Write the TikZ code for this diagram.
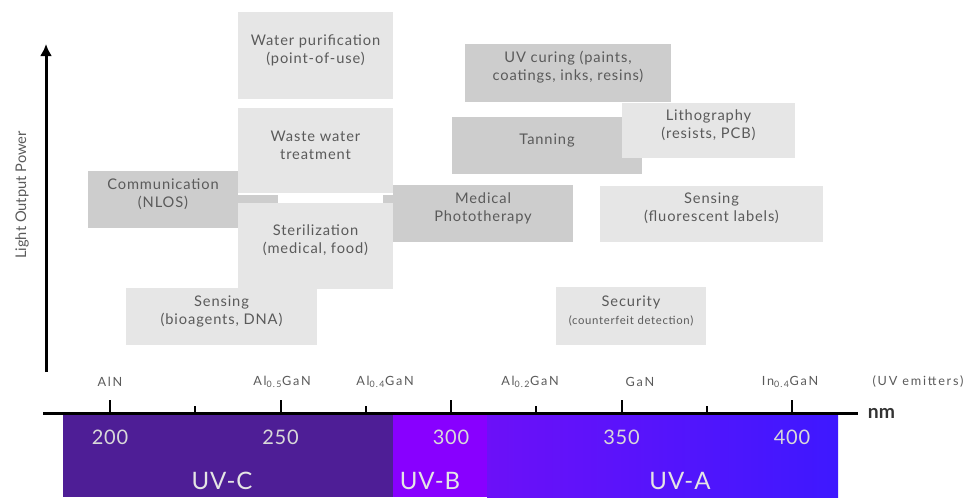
\documentclass[tikz,border=0pt]{standalone}
\usepackage{fontspec}
\setmainfont{Lato}
\usetikzlibrary{fit,arrows.meta}

\definecolor{boxlight}{HTML}{E6E6E6}
\definecolor{boxdark}{HTML}{CDCDCD}
\definecolor{txtgray}{HTML}{5A5A5A}
\definecolor{uvc}{HTML}{4E1E96}
\definecolor{uvb}{HTML}{8800FF}
\definecolor{uvaleft}{HTML}{6C10F8}
\definecolor{uvaright}{HTML}{3E18FF}

\tikzset{
  appbox/.style={inner sep=0pt, align=center, text=txtgray, font=\fontsize{11}{13.5}\selectfont\addfontfeatures{LetterSpace=6}},
  lightbox/.style={appbox, fill=boxlight},
  darkbox/.style={appbox, fill=boxdark},
  emisor/.style={text=txtgray, font=\fontsize{9.5}{11}\selectfont\addfontfeatures{LetterSpace=14}},
  bandnum/.style={text=black!15, font=\fontsize{15}{17}\selectfont\addfontfeatures{LetterSpace=4}},
  bandname/.style={text=black!10, font=\fontsize{18}{21}\selectfont\addfontfeatures{LetterSpace=4}},
}

\begin{document}
\begin{tikzpicture}[x=0.75pt,y=-0.75pt]
    \useasboundingbox (0,0) rectangle (969,497);

    \def\scalx{3.41}
    \def\xcero{110}
    \def\yeje{413}

    %Bandas UV
    \fill[uvc] (63,415) rectangle (393,497);
    \fill[uvb] (393,415) rectangle (487,497);
    \shade[left color=uvaleft, right color=uvaright] (487,415) rectangle (838,497);
    \node[bandname] (uvC) at (222,481) {UV-C};
    \node[bandname] (uvB) at (430,481) {UV-B};
    \node[bandname] (uvA) at (680,481) {UV-A};

    %Ejex
    \foreach \n [evaluate={\xx=\xcero+(\n-200)*\scalx;}] in {200,250,...,400}{
        \draw[line width=1.5pt] (\xx,\yeje) -- (\xx,400);
        \node[bandnum] at (\xx,437) {\n};
    }
    \foreach \n [evaluate={\xx=\xcero+(\n-200)*\scalx;}] in {225,275,...,375}
        \draw[line width=1.2pt] (\xx,\yeje) -- (\xx,406);
    \draw[line width=2.25pt] (43,\yeje) -- (858,\yeje) node[right=3pt, font=\bfseries\fontsize{14.5}{16}\selectfont, text=black!80] (nm) {nm};

    %Emisores
    \node[emisor] (aln) at (110,382) {AlN};
    \node[emisor] (al5) at (282,382) {Al\textsubscript{0.5}GaN};
    \node[emisor] (al4) at (385,382) {Al\textsubscript{0.4}GaN};
    \node[emisor] (al2) at (530,382) {Al\textsubscript{0.2}GaN};
    \node[emisor] (gan) at (640,382) {GaN};
    \node[emisor] (in4) at (790,382) {In\textsubscript{0.4}GaN};
    \node[emisor] (uvem) at (918,382) {(UV emitters)};

    %Ejey
    \draw[line width=2.25pt, -{Latex[length=9pt,width=9pt]}] (46,372) -- (46,44);
    \node[rotate=90, text=txtgray, font=\fontsize{11}{13}\selectfont] (lop) at (22,195) {Light Output Power};

    %Aplicaciones
    \fill[boxdark] (238,195) rectangle (278,203);
    \fill[boxdark] (383,195) rectangle (393,203);
    \node[darkbox, fit={(88,171) (238,228)}] (comm) {Communication\\(NLOS)};
    \node[darkbox, fit={(393,185) (573,242)}] (medic) {Medical\\Phototherapy};
    \node[lightbox, fit={(238,12) (393,99)}] (water) {Water purification\\(point-of-use)};
    \node[lightbox, fit={(238,108) (393,193)}] (waste) {Waste water\\treatment};
    \node[lightbox, fit={(238,203) (393,289)}] (steril) {Sterilization\\(medical, food)};
    \node[lightbox, fit={(126,288) (317,345)}] (bio) {Sensing\\(bioagents, DNA)};
    \node[darkbox, fit={(465,44) (671,102)}] (curing) {UV curing (paints,\\coatings, inks, resins)};
    \node[darkbox, fit={(452,117) (642,174)}] (tan) {Tanning};
    \node[lightbox, fit={(622,103) (795,158)}] (litho) {Lithography\\(resists, PCB)};
    \node[lightbox, fit={(600,186) (823,242)}] (fluor) {Sensing\\(fluorescent labels)};
    \node[lightbox, fit={(556,287) (706,345)}] (secur) {Security\\{\fontsize{8.5}{10}\selectfont\addfontfeatures{LetterSpace=6}(counterfeit detection)}};

\end{tikzpicture}
\end{document}
